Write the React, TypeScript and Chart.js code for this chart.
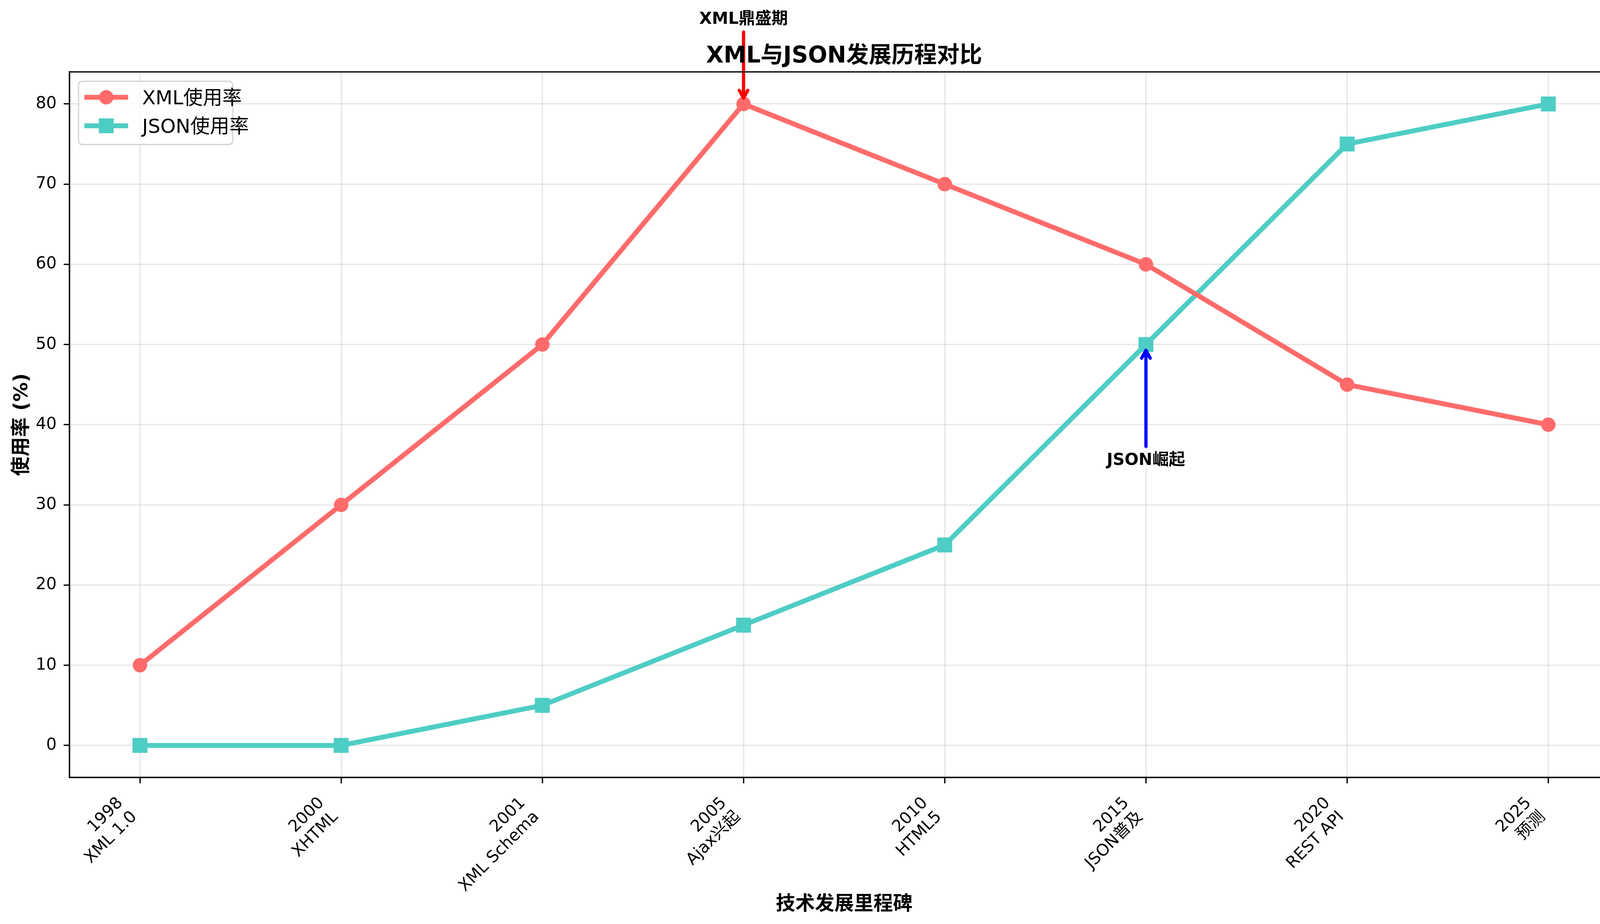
import React, { useEffect, useRef } from "react";
import { Chart, registerables } from "chart.js";

Chart.register(...registerables);

// values
const years = ["1998", "2000", "2001", "2005", "2010", "2015", "2020", "2025"];
const milestones = ["XML 1.0", "XHTML", "XML Schema", "Ajax兴起", "HTML5", "JSON普及", "REST API", "预测"];
const xmlUsage = [10, 30, 50, 80, 70, 60, 45, 40];
const jsonUsage = [0, 0, 5, 15, 25, 50, 75, 80];
const yTicks = [0, 10, 20, 30, 40, 50, 60, 70, 80];

const seriesNames = ["XML使用率", "JSON使用率"];
const seriesColors = ["#FF6B6B", "#4ECDC4"];
const seriesMarkers = ["circle", "rect"];
const chartTitle = "XML与JSON发展历程对比";
const xTitle = "技术发展里程碑";
const yTitle = "使用率 (%)";

const notes = [
  { text: "XML鼎盛期", at: 3, series: 0, textY: 90, color: "red" },
  { text: "JSON崛起", at: 5, series: 1, textY: 35, color: "blue" },
];

const FONT = "'DejaVu Sans', 'Noto Sans CJK SC', sans-serif";
const GRID = "rgba(176,176,176,0.3)";

const drawMarker = (ctx: any, kind: string, x: number, y: number, color: string) => {
  ctx.fillStyle = color;
  ctx.beginPath();
  if (kind === "circle") ctx.arc(x, y, 18.5, 0, Math.PI * 2);
  else ctx.rect(x - 19, y - 19, 38, 38);
  ctx.fill();
};

const decor = {
  id: "decor",
  afterDatasetsDraw(chart: any) {
    const { ctx, scales } = chart;
    const xs = scales.x;
    const ys = scales.y;
    const all = [xmlUsage, jsonUsage];
    ctx.save();
    notes.forEach((n) => {
      const px = xs.getPixelForValue(n.at);
      const py = ys.getPixelForValue(all[n.series][n.at]);
      const ty = ys.getPixelForValue(n.textY);
      ctx.font = `bold 42px ${FONT}`;
      ctx.fillStyle = "#000";
      ctx.textAlign = "center";
      ctx.textBaseline = "alphabetic";
      ctx.fillText(n.text, px, ty);
      const above = ty < py;
      const tail = above ? ty + 21 : ty - 47;
      const tip = above ? py - 15 : py + 15;
      const dir = above ? 1 : -1;
      ctx.strokeStyle = n.color;
      ctx.lineWidth = 8.3;
      ctx.lineCap = "round";
      ctx.lineJoin = "round";
      ctx.beginPath();
      ctx.moveTo(px, tail);
      ctx.lineTo(px, tip);
      ctx.stroke();
      ctx.beginPath();
      ctx.moveTo(px - 11, tip - dir * 20);
      ctx.lineTo(px, tip);
      ctx.lineTo(px + 11, tip - dir * 20);
      ctx.stroke();
    });
    ctx.restore();
  },
  afterDraw(chart: any) {
    const { ctx, chartArea: a } = chart;
    ctx.save();
    // axes frame
    ctx.strokeStyle = "#000";
    ctx.lineWidth = 3.3;
    ctx.strokeRect(a.left, a.top, a.right - a.left, a.bottom - a.top);

    // title and axis titles
    ctx.fillStyle = "#000";
    ctx.textAlign = "center";
    ctx.textBaseline = "alphabetic";
    ctx.font = `bold 58px ${FONT}`;
    ctx.fillText(chartTitle, (a.left + a.right) / 2, a.top - 24);
    ctx.font = `bold 50px ${FONT}`;
    ctx.fillText(xTitle, (a.left + a.right) / 2, chart.height - 36);
    ctx.save();
    ctx.translate(70, (a.top + a.bottom) / 2);
    ctx.rotate(-Math.PI / 2);
    ctx.fillText(yTitle, 0, 0);
    ctx.restore();

    // legend
    const bx = a.left + 23;
    const by = a.top + 24;
    ctx.fillStyle = "rgba(255,255,255,0.8)";
    ctx.strokeStyle = "#d5d5d5";
    ctx.lineWidth = 3.3;
    ctx.beginPath();
    ctx.roundRect(bx, by, 395, 162, 10);
    ctx.fill();
    ctx.stroke();
    seriesNames.forEach((name, i) => {
      const ry = by + 41 + i * 73;
      ctx.strokeStyle = seriesColors[i];
      ctx.lineWidth = 12.5;
      ctx.lineCap = "butt";
      ctx.beginPath();
      ctx.moveTo(bx + 15, ry);
      ctx.lineTo(bx + 127, ry);
      ctx.stroke();
      drawMarker(ctx, seriesMarkers[i], bx + 71, ry, seriesColors[i]);
      ctx.fillStyle = "#000";
      ctx.font = `50px ${FONT}`;
      ctx.textAlign = "left";
      ctx.textBaseline = "alphabetic";
      ctx.fillText(name, bx + 163, ry + 18);
    });
    ctx.restore();
  },
};

const App = () => {
  const chartRef = useRef<HTMLCanvasElement | null>(null);

  useEffect(() => {
    if (!chartRef.current) return;
    const myChart = new Chart(chartRef.current, {
      type: "line",
      data: {
        datasets: [xmlUsage, jsonUsage].map((vals, i) => ({
          label: seriesNames[i],
          data: vals.map((v, j) => ({ x: j, y: v })),
          borderColor: seriesColors[i],
          backgroundColor: seriesColors[i],
          borderWidth: 12.5,
          borderJoinStyle: "round" as const,
          pointStyle: seriesMarkers[i] as any,
          pointRadius: i === 0 ? 18.5 : 27,
          pointBorderWidth: 0,
          pointBackgroundColor: seriesColors[i],
          fill: false,
          tension: 0,
        })),
      },
      options: {
        animation: false,
        responsive: true,
        maintainAspectRatio: false,
        devicePixelRatio: 1,
        events: [],
        layout: { padding: { top: 184, right: 28, left: 0, bottom: 0 } },
        plugins: {
          legend: { display: false },
          title: { display: false },
          tooltip: { enabled: false },
        },
        scales: {
          x: {
            type: "linear",
            min: -0.35,
            max: 7.35,
            afterBuildTicks: (s: any) => {
              s.ticks = years.map((_, i) => ({ value: i }));
            },
            afterFit: (s: any) => {
              s.height = 375;
            },
            ticks: {
              autoSkip: false,
              minRotation: 45,
              maxRotation: 45,
              padding: 26,
              labelOffset: -50,
              color: "#000",
              font: { family: FONT, size: 42 },
              callback: (v: any) => [years[v], milestones[v]],
            },
            grid: {
              color: GRID,
              lineWidth: 3.3,
              tickColor: "#000",
              tickLength: 15,
              tickWidth: 3.3,
            },
            border: { display: true, color: "#000", width: 3.3 },
          },
          y: {
            type: "linear",
            min: -4,
            max: 84,
            afterBuildTicks: (s: any) => {
              s.ticks = yTicks.map((v) => ({ value: v }));
            },
            afterFit: (s: any) => {
              s.width = 178;
            },
            ticks: {
              padding: 18,
              color: "#000",
              font: { family: FONT, size: 42 },
            },
            grid: {
              color: GRID,
              lineWidth: 3.3,
              tickColor: "#000",
              tickLength: 15,
              tickWidth: 3.3,
            },
            border: { display: true, color: "#000", width: 3.3 },
          },
        },
      },
      plugins: [decor],
    });

    return () => {
      myChart.destroy();
    };
  }, []);

  return (
    <div style={{ position: "fixed", left: 0, top: 0, width: 4172, height: 2365, background: "#fff" }}>
      <canvas ref={chartRef} />
    </div>
  );
};

export default App;
